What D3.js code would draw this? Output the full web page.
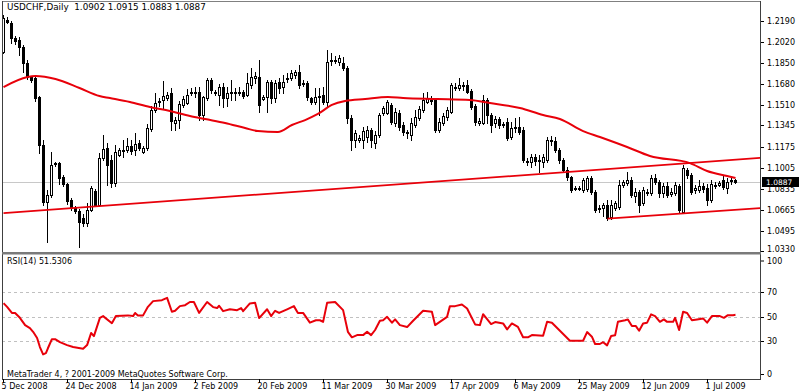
<!DOCTYPE html>
<html><head><meta charset="utf-8">
<script src="https://cdn.jsdelivr.net/npm/d3@7"></script>
<style>
body{margin:0;background:#fff}
svg{display:block}
text{font-family:"DejaVu Sans",Verdana,sans-serif;font-size:8px;fill:#000}
</style>
</head><body>
<svg id="c" width="800" height="391"></svg>
<script>
const symbolTitle = "USDCHF,Daily  1.0902 1.0915 1.0883 1.0887";
const rsiTitle = "RSI(14) 51.5306";
const copyright = "MetaTrader 4, ? 2001-2009 MetaQuotes Software Corp.";

const opens = [
1.1939,1.2198,1.2174,1.2053,1.2036,1.1980,1.1850,1.1737,1.1729,1.1575,
1.1187,1.0726,1.0782,1.1033,1.1041,1.0928,1.0871,1.0742,1.0677,1.0653,
1.0596,1.0556,1.0661,1.0815,1.0702,1.1082,1.1163,1.1066,1.0880,1.1106,
1.1138,1.1146,1.1179,1.1146,1.1203,1.1130,1.1163,1.1316,1.1470,1.1535,
1.1551,1.1567,1.1608,1.1365,1.1389,1.1511,1.1527,1.1608,1.1616,1.1616,
1.1430,1.1567,1.1713,1.1616,1.1591,1.1656,1.1567,1.1608,1.1616,1.1608,
1.1616,1.1591,1.1672,1.1729,1.1737,1.1559,1.1575,1.1697,1.1567,1.1697,
1.1656,1.1721,1.1729,1.1753,1.1777,1.1680,1.1689,1.1567,1.1535,1.1575,
1.1591,1.1535,1.1867,1.1875,1.1858,1.1850,1.1810,1.1405,1.1227,1.1227,
1.1227,1.1252,1.1308,1.1203,1.1268,1.1446,1.1446,1.1511,1.1365,1.1446,
1.1349,1.1292,1.1268,1.1349,1.1405,1.1470,1.1535,1.1551,1.1551,1.1308,
1.1365,1.1413,1.1454,1.1648,1.1648,1.1672,1.1672,1.1624,1.1502,1.1365,
1.1365,1.1551,1.1430,1.1365,1.1397,1.1349,1.1373,1.1252,1.1324,1.1333,
1.1308,1.1057,1.1049,1.1090,1.1057,1.1049,1.1066,1.1219,1.1219,1.1146,
1.1066,1.0985,1.0928,1.0831,1.0839,1.0823,1.0831,1.0920,1.0807,1.0669,
1.0677,1.0702,1.0604,1.0677,1.0685,1.0863,1.0880,1.0904,1.0774,1.0807,
1.0718,1.0807,1.0799,1.0920,1.0888,1.0799,1.0855,1.0791,1.0799,1.0855,
1.0645,1.0985,1.0944,1.0823,1.0823,1.0855,1.0839,1.0742,1.0863,1.0863,
1.0904,1.0839,1.0896,1.0902];

const highs = [
1.2239,1.2222,1.2190,1.2069,1.2061,1.1996,1.1875,1.1745,1.1745,1.1583,
1.1227,1.0823,1.1130,1.1049,1.1049,1.0944,1.0880,1.0758,1.0693,1.0669,
1.0629,1.0718,1.0855,1.0831,1.1122,1.1268,1.1203,1.1106,1.1187,1.1163,
1.1227,1.1244,1.1227,1.1284,1.1227,1.1179,1.1357,1.1502,1.1608,1.1567,
1.1705,1.1616,1.1648,1.1413,1.1543,1.1583,1.1640,1.1648,1.1656,1.1656,
1.1583,1.1729,1.1729,1.1632,1.1680,1.1689,1.1656,1.1713,1.1648,1.1656,
1.1632,1.1769,1.1810,1.1777,1.1875,1.1591,1.1713,1.1713,1.1713,1.1729,
1.1753,1.1769,1.1794,1.1794,1.1834,1.1713,1.1705,1.1575,1.1648,1.1648,
1.1656,1.1956,1.1931,1.1907,1.1915,1.1899,1.1826,1.1430,1.1308,1.1268,
1.1333,1.1341,1.1324,1.1300,1.1446,1.1502,1.1551,1.1527,1.1486,1.1470,
1.1373,1.1308,1.1405,1.1470,1.1502,1.1608,1.1616,1.1583,1.1567,1.1405,
1.1446,1.1494,1.1689,1.1689,1.1729,1.1697,1.1713,1.1640,1.1519,1.1405,
1.1591,1.1567,1.1446,1.1422,1.1413,1.1373,1.1405,1.1373,1.1405,1.1413,
1.1333,1.1082,1.1114,1.1114,1.1106,1.1114,1.1252,1.1260,1.1252,1.1163,
1.1082,1.1009,1.0936,1.0855,1.0855,1.0920,1.0936,1.0936,1.0823,1.0702,
1.0718,1.0742,1.0742,1.0734,1.0904,1.0904,1.0969,1.0928,1.0839,1.0823,
1.0847,1.0831,1.0944,1.0952,1.0904,1.0880,1.0888,1.0839,1.0888,1.0871,
1.1025,1.1001,1.0960,1.0863,1.0904,1.0880,1.0871,1.0904,1.0888,1.0896,
1.0944,1.0920,1.0936,1.0915];

const lows = [
1.1931,1.2174,1.2012,1.2004,1.1915,1.1777,1.1721,1.1697,1.1543,1.1122,
1.0702,1.0402,1.0766,1.1017,1.0871,1.0855,1.0710,1.0661,1.0637,1.0362,
1.0532,1.0532,1.0653,1.0693,1.0693,1.1066,1.0863,1.0847,1.0855,1.1098,
1.1090,1.1130,1.1114,1.1106,1.1146,1.1122,1.1146,1.1300,1.1454,1.1502,
1.1486,1.1551,1.1308,1.1308,1.1324,1.1494,1.1519,1.1591,1.1575,1.1389,
1.1389,1.1551,1.1608,1.1591,1.1511,1.1494,1.1502,1.1551,1.1551,1.1591,
1.1567,1.1583,1.1648,1.1689,1.1454,1.1551,1.1454,1.1527,1.1535,1.1608,
1.1608,1.1697,1.1713,1.1729,1.1648,1.1664,1.1551,1.1519,1.1519,1.1430,
1.1519,1.1494,1.1834,1.1850,1.1834,1.1794,1.1365,1.1146,1.1171,1.1211,
1.1163,1.1211,1.1171,1.1163,1.1252,1.1430,1.1438,1.1357,1.1341,1.1308,
1.1268,1.1244,1.1227,1.1333,1.1389,1.1454,1.1527,1.1519,1.1292,1.1292,
1.1349,1.1389,1.1446,1.1632,1.1632,1.1632,1.1608,1.1478,1.1349,1.1349,
1.1357,1.1365,1.1292,1.1333,1.1324,1.1333,1.1227,1.1236,1.1292,1.1276,
1.1049,1.1025,1.1009,1.1025,1.0969,1.1009,1.1049,1.1187,1.1130,1.1041,
1.0969,1.0904,1.0807,1.0823,1.0823,1.0807,1.0815,1.0791,1.0645,1.0645,
1.0613,1.0580,1.0588,1.0661,1.0669,1.0847,1.0863,1.0766,1.0726,1.0645,
1.0702,1.0782,1.0782,1.0871,1.0766,1.0766,1.0766,1.0774,1.0782,1.0637,
1.0637,1.0920,1.0791,1.0799,1.0807,1.0807,1.0702,1.0726,1.0839,1.0855,
1.0831,1.0799,1.0871,1.0883];

const closes = [
1.2214,1.2182,1.2053,1.2028,1.1980,1.1850,1.1737,1.1713,1.1567,1.1187,
1.0726,1.0782,1.1025,1.1041,1.0920,1.0871,1.0734,1.0677,1.0653,1.0564,
1.0556,1.0661,1.0839,1.0702,1.1082,1.1155,1.1025,1.0880,1.1130,1.1146,
1.1146,1.1179,1.1138,1.1195,1.1163,1.1163,1.1324,1.1470,1.1527,1.1543,
1.1583,1.1591,1.1381,1.1389,1.1519,1.1559,1.1591,1.1616,1.1608,1.1430,
1.1575,1.1713,1.1632,1.1608,1.1656,1.1567,1.1608,1.1616,1.1608,1.1616,
1.1583,1.1689,1.1737,1.1745,1.1511,1.1575,1.1697,1.1567,1.1689,1.1648,
1.1697,1.1729,1.1769,1.1777,1.1672,1.1689,1.1575,1.1535,1.1575,1.1583,
1.1535,1.1858,1.1875,1.1867,1.1891,1.1810,1.1405,1.1227,1.1284,1.1244,
1.1300,1.1308,1.1227,1.1268,1.1430,1.1486,1.1535,1.1373,1.1454,1.1333,
1.1292,1.1284,1.1365,1.1413,1.1478,1.1551,1.1567,1.1543,1.1308,1.1373,
1.1422,1.1470,1.1672,1.1656,1.1672,1.1664,1.1616,1.1494,1.1373,1.1381,
1.1551,1.1430,1.1349,1.1397,1.1349,1.1357,1.1244,1.1324,1.1333,1.1292,
1.1066,1.1049,1.1090,1.1057,1.1066,1.1090,1.1227,1.1227,1.1146,1.1066,
1.0985,1.0928,1.0823,1.0839,1.0831,1.0904,1.0920,1.0807,1.0661,1.0677,
1.0702,1.0596,1.0702,1.0718,1.0863,1.0888,1.0904,1.0782,1.0807,1.0702,
1.0823,1.0799,1.0920,1.0888,1.0799,1.0855,1.0782,1.0807,1.0863,1.0661,
1.1001,1.0944,1.0807,1.0839,1.0855,1.0831,1.0742,1.0871,1.0855,1.0880,
1.0847,1.0888,1.0904,1.0887];

// moving average (red curve), read at bar positions
const maIdx = [0,6,8,13,19,24,26.6,31.6,36.6,41.6,46.6,50.4,55.4,60.4,63.6,68.6,72.1,75.4,78.6,82.1,85.4,90.4,96.1,99.9,108.4,116.6,121.6,129.1,134.9,139.1,144.9,149.1,155.9,161.6,171.6,175.9,180.9,183];
const maVal = [1.1656,1.1737,1.1745,1.1721,1.1648,1.1583,1.1567,1.1535,1.1494,1.1462,1.1422,1.1397,1.1365,1.1324,1.1300,1.1292,1.1349,1.1389,1.1438,1.1511,1.1543,1.1559,1.1575,1.1567,1.1559,1.1551,1.1527,1.1486,1.1430,1.1397,1.1300,1.1252,1.1171,1.1098,1.1041,1.0977,1.0936,1.0920];

// trend lines [bar index, price]
const trendUpper = [[0,1.0636],[190,1.1085]];
const trendLower = [[151,1.0592],[190,1.0678]];

// RSI(14) [bar index, value]
const rsiPoints = [[0,61],[0.9,58],[2.1,53],[2.9,53],[4.1,49],[5.4,43],[6.6,40.6],[7.4,37.5],[8.4,32.4],[9.1,25],[9.9,19],[10.6,20],[11.1,24],[12.1,31.5],[12.9,31.5],[14.1,29],[15.9,26.6],[17.4,25],[19.9,23.6],[20.9,26.6],[21.9,36.5],[22.6,34],[24.1,49],[24.9,50.4],[27.1,44.6],[28.1,50.4],[31.1,51],[32.4,50.4],[32.9,53],[33.6,51],[34.9,51],[36.1,58],[37.4,62.7],[39.6,63.5],[40.9,65.4],[42.1,54],[42.9,54.8],[44.1,58.6],[45.4,59.4],[46.6,62],[47.6,62],[48.9,53],[50.9,62],[52.4,57.8],[53.4,57],[53.9,58.9],[54.9,54.5],[56.6,56],[58.4,55.3],[59.4,57],[59.9,54.5],[61.6,60.8],[62.9,61.3],[63.9,48.8],[65.9,56],[66.9,50.4],[67.9,54.8],[68.9,53],[70.9,56],[72.6,58.6],[73.6,53],[74.9,53],[76.6,45],[78.1,47],[79.1,47],[79.9,45.7],[80.9,61.3],[82.9,62],[84.9,55.3],[86.1,37.5],[87.1,33],[88.4,34.8],[89.9,34.8],[90.9,37.5],[91.9,34.8],[92.9,39],[94.1,46.6],[94.9,47],[95.9,49.8],[97.1,45],[97.9,47.7],[99.1,43],[100.9,41.4],[102.4,46.6],[104.9,54.8],[107.1,54],[107.9,43],[110.9,49.8],[111.6,58.6],[112.9,58.6],[114.6,60],[115.9,56.7],[117.9,43.6],[119.1,43],[119.9,52],[121.9,43.9],[122.9,45.5],[124.9,44.4],[125.9,39.5],[127.1,44.4],[128.6,41.6],[129.9,33],[131.1,33],[132.1,34.8],[134.9,34.3],[135.9,45.7],[137.1,45],[141.6,30.2],[144.9,30.2],[145.9,37.3],[147.1,33.5],[147.9,27.5],[149.1,27.5],[149.9,29],[150.9,26.4],[151.9,34],[152.9,34.6],[153.6,45.7],[155.4,47],[156.1,47.7],[157.1,42.2],[158.1,42.2],[158.9,38.4],[159.9,44.4],[160.9,45],[161.9,51.8],[162.9,50.4],[164.1,45.7],[165.1,47.7],[165.9,45.7],[167.4,45.7],[167.9,49],[168.9,39],[169.9,54],[170.9,53],[172.1,47],[173.4,47.7],[174.9,48.5],[175.9,45],[177.1,50.4],[179.1,50.4],[180.1,49],[181.1,51.2],[182.4,51.2],[183,51.5]];

const priceTicks = [1.2190,1.2020,1.1850,1.1680,1.1510,1.1345,1.1175,1.1005,1.0835,1.0665,1.0495,1.0330];
const rsiTicks = [100,70,50,30,0];
const rsiLevels = [70,50,30];
const dateLabels = ["5 Dec 2008","24 Dec 2008","14 Jan 2009","2 Feb 2009","20 Feb 2009","11 Mar 2009","30 Mar 2009","17 Apr 2009","6 May 2009","25 May 2009","12 Jun 2009","1 Jul 2009"];
const dateIdx = [0,16,32,48,64,80,96,112,128,144,160,176];
const lastPrice = 1.0887;

// ---- layout
const L = 2, R = 760, T = 2, MB = 252, RT = 255, RB = 379;
const RED = "#e8000a";

const svg = d3.select("#c");
const x = d3.scaleLinear().domain([0, 183]).range([3.5, 735.5]);
const y = d3.scaleLinear().domain([1.0330, 1.2190]).range([251, 21]);
const yr = d3.scaleLinear().domain([0, 100]).range([377.5, 255.7]);

const defs = svg.append("defs");
defs.append("clipPath").attr("id","cm").append("rect").attr("x",L+1).attr("y",T).attr("width",R-L-1).attr("height",MB-T);
defs.append("clipPath").attr("id","cr").append("rect").attr("x",L+1).attr("y",RT).attr("width",R-L-1).attr("height",RB-RT);

const main = svg.append("g").attr("clip-path","url(#cm)");
const sub = svg.append("g").attr("clip-path","url(#cr)");

// current price line
main.append("line").attr("x1",L).attr("x2",R).attr("y1",Math.round(y(lastPrice))+0.5).attr("y2",Math.round(y(lastPrice))+0.5)
  .attr("stroke","#c8c8c8").attr("stroke-width",1);

// candles
const bars = d3.range(opens.length).map(i => ({i, o:opens[i], h:highs[i], l:lows[i], c:closes[i]}));
main.append("g").selectAll("rect").data(bars).join("rect")
  .attr("x", d => x(d.i) - 0.5)
  .attr("y", d => Math.round(y(d.h)))
  .attr("width", 1)
  .attr("height", d => Math.max(1, Math.round(y(d.l)) - Math.round(y(d.h)) + 1))
  .attr("fill", "#000");
const bodies = main.append("g");
bars.forEach(d => {
  const yt = Math.round(y(Math.max(d.o, d.c)));
  const yb = Math.round(y(Math.min(d.o, d.c)));
  if (d.c > d.o) {
    bodies.append("rect").attr("x", x(d.i) - 1).attr("y", yt + 0.5)
      .attr("width", 2).attr("height", Math.max(0, yb - yt))
      .attr("fill", "#fff").attr("stroke", "#000").attr("stroke-width", 1);
  } else {
    bodies.append("rect").attr("x", x(d.i) - 1.5).attr("y", yt)
      .attr("width", 3).attr("height", Math.max(1, yb - yt + 1)).attr("fill", "#000");
  }
});

// MA
const maPts = maIdx.map((v, k) => [v, maVal[k]]);
main.append("path").datum(maPts)
  .attr("d", d3.line().x(d => x(d[0])).y(d => y(d[1])).curve(d3.curveMonotoneX))
  .attr("fill","none").attr("stroke",RED).attr("stroke-width",2);

// trend lines
[trendUpper, trendLower].forEach(t => {
  main.append("path").datum(t)
    .attr("d", d3.line().x(d => x(d[0])).y(d => y(d[1])))
    .attr("fill","none").attr("stroke",RED).attr("stroke-width",1.8);
});

// RSI levels
sub.selectAll("line.lv").data(rsiLevels).join("line")
  .attr("x1",L).attr("x2",R).attr("y1",d=>Math.round(yr(d))+0.5).attr("y2",d=>Math.round(yr(d))+0.5)
  .attr("stroke","#c0c0c0").attr("stroke-dasharray","3,3");
sub.append("path").datum(rsiPoints)
  .attr("d", d3.line().x(d => x(d[0])).y(d => yr(d[1])))
  .attr("fill","none").attr("stroke",RED).attr("stroke-width",2).attr("stroke-linejoin","round");

// frame
svg.append("line").attr("x1",L).attr("x2",R).attr("y1",1.5).attr("y2",1.5).attr("stroke","#808080");
svg.append("line").attr("x1",L+0.5).attr("x2",L+0.5).attr("y1",1).attr("y2",RB+1).attr("stroke","#404040");
svg.append("line").attr("x1",R+0.5).attr("x2",R+0.5).attr("y1",1).attr("y2",RB+1).attr("stroke","#404040");
svg.append("rect").attr("x",L).attr("y",MB).attr("width",R-L+1).attr("height",2.5).attr("fill","#7a7a7a");
svg.append("line").attr("x1",L).attr("x2",R+1).attr("y1",RB+0.5).attr("y2",RB+0.5).attr("stroke","#404040");

// price axis
const pa = svg.append("g");
priceTicks.forEach((p, k) => {
  const yy = Math.round(y(p)) + 0.5;
  const ty = (k === priceTicks.length - 1) ? yy - 2 : yy;
  pa.append("line").attr("x1",R+1).attr("x2",R+4).attr("y1",yy).attr("y2",yy).attr("stroke","#000");
  pa.append("text").attr("x",R+7).attr("y",ty).attr("dy","0.35em").text(p.toFixed(4));
});
const ly = Math.round(y(lastPrice));
pa.append("rect").attr("x",R+2).attr("y",ly-5).attr("width",37).attr("height",10).attr("fill","#000");
pa.append("text").attr("x",R+6).attr("y",ly).attr("dy","0.35em").style("fill","#fff").style("font-size","7.5px").text(lastPrice.toFixed(4));

// RSI axis
rsiTicks.forEach(v => {
  const yy = Math.round(yr(v)) + 0.5;
  const ty = Math.min(Math.max(yy, 261), 374.5);
  pa.append("line").attr("x1",R+1).attr("x2",R+4).attr("y1",ty).attr("y2",ty).attr("stroke","#000");
  pa.append("text").attr("x",R+7).attr("y",ty).attr("dy","0.35em").text(v);
});

// date axis
dateIdx.forEach((b, k) => {
  const xx = x(b);
  svg.append("line").attr("x1",xx).attr("x2",xx).attr("y1",RB).attr("y2",RB+4).attr("stroke","#000");
  svg.append("text").attr("x",xx-2).attr("y",389).text(dateLabels[k]);
});

// titles
svg.append("text").attr("x",7).attr("y",10).style("font-size","8.8px").style("white-space","pre").text(symbolTitle);
svg.append("text").attr("x",7).attr("y",264).text(rsiTitle);
svg.append("text").attr("x",7).attr("y",377).text(copyright);
</script>
</body></html>
